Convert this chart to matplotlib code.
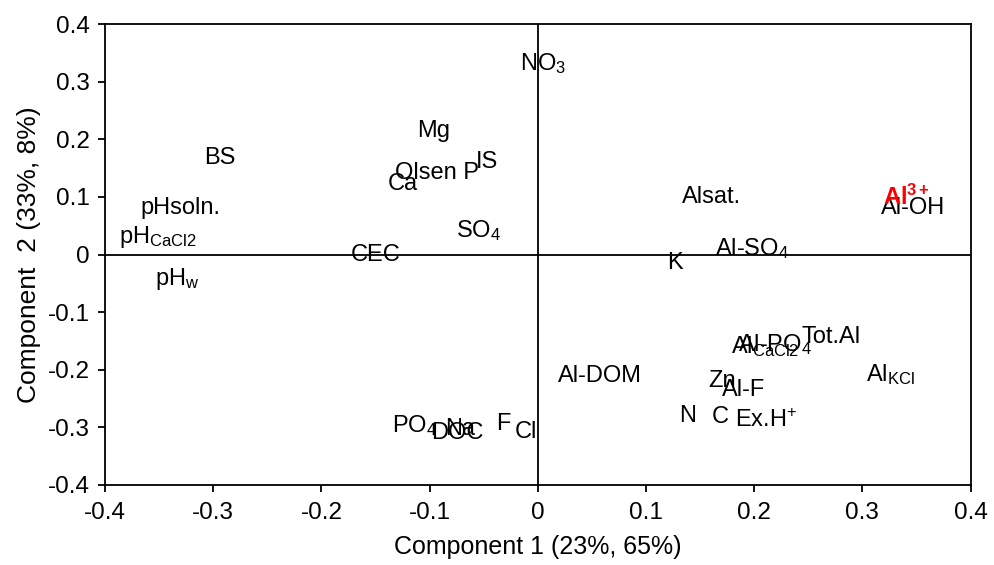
import matplotlib
matplotlib.use("Agg")
import matplotlib.pyplot as plt

plt.rcParams['font.family'] = ['Liberation Sans', 'DejaVu Sans']
plt.rcParams['mathtext.fontset'] = 'custom'
plt.rcParams['mathtext.rm'] = 'Liberation Sans'
plt.rcParams['mathtext.it'] = 'Liberation Sans'
plt.rcParams['mathtext.bf'] = 'Liberation Sans:bold'
plt.rcParams['mathtext.default'] = 'regular'

# Variable loadings on the first two components
labels = ['NO$_3$', 'Mg', 'BS', 'IS', 'Olsen P', 'Ca', 'pHsoln.', 'pH$_{CaCl2}$',
          'SO$_4$', 'CEC', 'pH$_w$', 'Alsat.', 'Al-OH', 'Al-SO$_4$', 'K',
          'Tot.Al', 'Al-PO$_4$', 'Al$_{CaCl2}$', 'Al$_{KCl}$', 'Al-DOM', 'Zn',
          'Al-F', 'N', 'C', 'Ex.H$^{+}$', 'PO$_4$', 'DOC', 'Na', 'F', 'Cl']
comp1 = [0.005, -0.096, -0.294, -0.047, -0.093, -0.125, -0.330, -0.351,
         -0.055, -0.150, -0.333, 0.161, 0.347, 0.198, 0.127,
         0.271, 0.219, 0.210, 0.326, 0.057, 0.170,
         0.190, 0.138, 0.169, 0.211, -0.114, -0.074, -0.072, -0.032, -0.011]
comp2 = [0.332, 0.214, 0.167, 0.160, 0.141, 0.122, 0.081, 0.030,
         0.042, 0.000, -0.043, 0.100, 0.081, 0.011, -0.015,
         -0.143, -0.157, -0.160, -0.208, -0.211, -0.220,
         -0.235, -0.281, -0.282, -0.288, -0.296, -0.310, -0.302, -0.294, -0.308]

# Highlighted species
hl_label = 'Al$^{3+}$'
hl_c1 = 0.341
hl_c2 = 0.100

ticks = [-0.4, -0.3, -0.2, -0.1, 0, 0.1, 0.2, 0.3, 0.4]
tick_labels = ['-0.4', '-0.3', '-0.2', '-0.1', '0', '0.1', '0.2', '0.3', '0.4']

fig = plt.figure(figsize=(9.95, 5.65), dpi=100)
ax = fig.add_axes([0.1055, 0.1416, 0.8700, 0.8159])

ax.axhline(0, color='black', lw=1.3, zorder=1)
ax.axvline(0, color='black', lw=1.3, zorder=1)

for lab, x, y in zip(labels, comp1, comp2):
    ax.text(x, y, lab, ha='center', va='center', fontsize=17, color='black', zorder=3)
ax.text(hl_c1, hl_c2, hl_label, ha='center', va='center', fontsize=17,
        color='red', fontweight='bold', zorder=4)

ax.set_xlim(-0.4, 0.4)
ax.set_ylim(-0.4, 0.4)
ax.set_xticks(ticks)
ax.set_xticklabels(tick_labels)
ax.set_yticks(ticks)
ax.set_yticklabels(tick_labels)
ax.tick_params(axis='x', labelsize=17.5, direction='out', length=5, width=1.3, pad=7)
ax.tick_params(axis='y', labelsize=17.5, direction='out', length=5, width=1.3, pad=6)
for s in ax.spines.values():
    s.set_linewidth(1.3)

ax.set_xlabel('Component 1 (23%, 65%)', fontsize=18, labelpad=8)
ax.set_ylabel('Component  2 (33%, 8%)', fontsize=19, labelpad=5)

fig.savefig('out.png', dpi=100)
